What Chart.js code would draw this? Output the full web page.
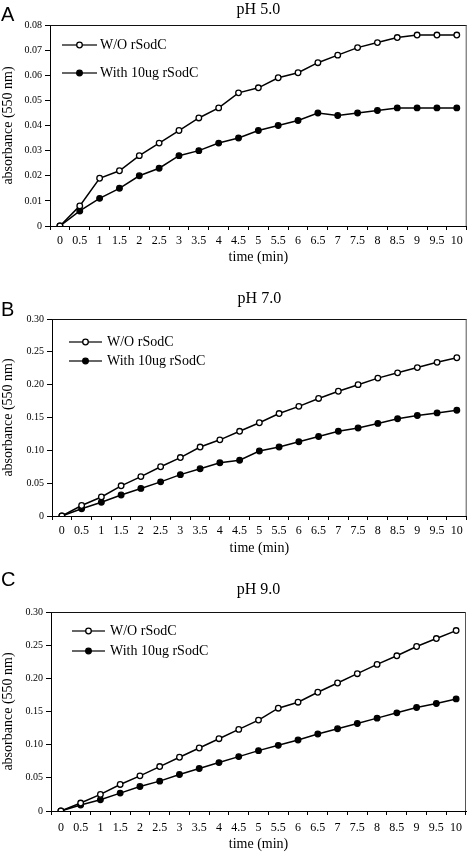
<!DOCTYPE html>
<html>
<head>
<meta charset="utf-8">
<script src="https://cdn.jsdelivr.net/npm/chart.js@4.4.1/dist/chart.umd.min.js"></script>
<style>
  body { margin: 0; background: #fff; }
  .panel { position: absolute; left: 0; width: 472px; }
  .letter {
    position: absolute;
    left: 1px;
    font: 20px "Liberation Sans", Arial, sans-serif;
    line-height: 1;
  }
</style>
</head>
<body>
<div class="panel" style="top:0px;height:270px"><canvas id="chartA" width="472" height="270"></canvas></div>
<div class="panel" style="top:285px;height:275px"><canvas id="chartB" width="472" height="275"></canvas></div>
<div class="panel" style="top:575px;height:278px"><canvas id="chartC" width="472" height="278"></canvas></div>
<div class="letter" style="top:4px">A</div>
<div class="letter" style="top:299px">B</div>
<div class="letter" style="top:569px">C</div>

<script>
const times = ["0", "0.5", "1", "1.5", "2", "2.5", "3", "3.5", "4", "4.5", "5",
  "5.5", "6", "6.5", "7", "7.5", "8", "8.5", "9", "9.5", "10"];
const seriesNames = ["W/O rSodC", "With 10ug rSodC"];

// pH 5.0
const ph5Without = [0, 0.008, 0.019, 0.022, 0.028, 0.033, 0.038, 0.043, 0.047, 0.053, 0.055,
  0.059, 0.061, 0.065, 0.068, 0.071, 0.073, 0.075, 0.076, 0.076, 0.076];
const ph5With = [0, 0.006, 0.011, 0.015, 0.020, 0.023, 0.028, 0.030, 0.033, 0.035, 0.038,
  0.040, 0.042, 0.045, 0.044, 0.045, 0.046, 0.047, 0.047, 0.047, 0.047];

// pH 7.0
const ph7Without = [0, 0.016, 0.029, 0.046, 0.060, 0.075, 0.089, 0.105, 0.116, 0.129, 0.142,
  0.156, 0.167, 0.179, 0.190, 0.200, 0.210, 0.218, 0.226, 0.234, 0.241];
const ph7With = [0, 0.011, 0.021, 0.032, 0.042, 0.052, 0.063, 0.072, 0.081, 0.085, 0.099,
  0.105, 0.113, 0.121, 0.129, 0.134, 0.141, 0.148, 0.153, 0.157, 0.161];

// pH 9.0
const ph9Without = [0, 0.012, 0.025, 0.040, 0.053, 0.067, 0.081, 0.095, 0.109, 0.123, 0.137,
  0.155, 0.164, 0.179, 0.193, 0.207, 0.221, 0.234, 0.248, 0.260, 0.272];
const ph9With = [0, 0.009, 0.017, 0.027, 0.037, 0.045, 0.055, 0.064, 0.073, 0.082, 0.091,
  0.099, 0.107, 0.116, 0.124, 0.132, 0.140, 0.148, 0.156, 0.162, 0.169];

const yMaxA = 0.08, yStepA = 0.01;
const yMaxB = 0.3, yStepB = 0.05;
const yMaxC = 0.3, yStepC = 0.05;

const serif = "'Liberation Serif', 'Times New Roman', serif";

// legend drawn inside the plot area, top-left
const insideLegend = {
  id: "insideLegend",
  afterDatasetsDraw(chart, args, opts) {
    const { ctx, chartArea } = chart;
    chart.data.datasets.forEach((ds, i) => {
      const y = chartArea.top + opts.rows[i];
      const x1 = chartArea.left + opts.lineStart;
      const x2 = chartArea.left + opts.lineEnd;
      ctx.save();
      ctx.strokeStyle = "#333";
      ctx.lineWidth = 1.5;
      ctx.beginPath();
      ctx.moveTo(x1, y);
      ctx.lineTo(x2, y);
      ctx.stroke();
      ctx.beginPath();
      ctx.arc((x1 + x2) / 2, y, 2.8, 0, Math.PI * 2);
      ctx.fillStyle = ds.pointBackgroundColor;
      ctx.fill();
      ctx.strokeStyle = "#000";
      ctx.lineWidth = 1.3;
      ctx.stroke();
      ctx.fillStyle = "#000";
      ctx.font = "14px " + serif;
      ctx.textBaseline = "middle";
      ctx.fillText(ds.label, chartArea.left + opts.textStart, y);
      ctx.restore();
    });
  },
};

// top and right edges of the plot box
const plotFrame = {
  id: "plotFrame",
  afterDraw(chart) {
    const { ctx, chartArea } = chart;
    ctx.save();
    ctx.lineWidth = 1;
    ctx.strokeStyle = "#111";
    ctx.beginPath();
    ctx.moveTo(chartArea.left, chartArea.top + 0.5);
    ctx.lineTo(chartArea.right, chartArea.top + 0.5);
    ctx.stroke();
    ctx.strokeStyle = "#555";
    ctx.beginPath();
    ctx.moveTo(chartArea.right - 0.5, chartArea.top);
    ctx.lineTo(chartArea.right - 0.5, chartArea.bottom);
    ctx.stroke();
    ctx.restore();
  },
};

function makeChart(canvasId, title, without, withSod, yMax, yStep, layout) {
  return new Chart(document.getElementById(canvasId), {
    type: "line",
    data: {
      labels: times,
      datasets: [
        {
          label: seriesNames[0],
          data: without,
          borderColor: "#000",
          borderWidth: 1.5,
          pointRadius: 2.8,
          pointBorderWidth: 1.3,
          pointBorderColor: "#000",
          pointBackgroundColor: "#fff",
          tension: 0,
        },
        {
          label: seriesNames[1],
          data: withSod,
          borderColor: "#000",
          borderWidth: 1.5,
          pointRadius: 2.8,
          pointBorderWidth: 1.3,
          pointBorderColor: "#000",
          pointBackgroundColor: "#000",
          tension: 0,
        },
      ],
    },
    options: {
      responsive: false,
      animation: false,
      devicePixelRatio: 1,
      layout: { padding: { left: 0, right: layout.right, top: 0, bottom: 0 } },
      plugins: {
        legend: { display: false },
        tooltip: { enabled: false },
        title: {
          display: true,
          text: title,
          fullSize: false,
          color: "#000",
          font: { family: serif, size: 16, weight: "normal", lineHeight: 1.2 },
          padding: { top: layout.titleTop, bottom: layout.titleBottom },
        },
        insideLegend: layout.legend,
      },
      scales: {
        x: {
          type: "category",
          offset: true,
          afterFit: (s) => { s.height = layout.xHeight; },
          grid: {
            offset: true,
            drawOnChartArea: false,
            drawTicks: true,
            tickLength: 4,
            color: "#000",
          },
          border: { display: true, color: "#000", width: 1 },
          ticks: {
            autoSkip: false,
            maxRotation: 0,
            padding: layout.xTickPad,
            color: "#000",
            font: { family: serif, size: 12 },
          },
          title: {
            display: true,
            text: "time (min)",
            color: "#000",
            font: { family: serif, size: 14, lineHeight: 1.2 },
            padding: { top: 0, bottom: layout.xTitleBottom },
          },
        },
        y: {
          min: 0,
          max: yMax,
          afterFit: (s) => { s.width = layout.yWidth; },
          grid: {
            drawOnChartArea: false,
            drawTicks: true,
            tickLength: 5,
            color: "#000",
          },
          border: { display: true, color: "#000", width: 1 },
          ticks: {
            stepSize: yStep,
            padding: 3,
            color: "#000",
            font: { family: serif, size: 10 },
          },
          title: {
            display: true,
            text: "absorbance (550 nm)",
            color: "#000",
            font: { family: serif, size: 14, lineHeight: 1.2 },
            padding: { top: 0, bottom: 0 },
          },
        },
      },
    },
    plugins: [insideLegend, plotFrame],
  });
}

makeChart("chartA", "pH 5.0", ph5Without, ph5With, yMaxA, yStepA, {
  right: 2, yWidth: 50, xHeight: 44, xTickPad: 4, xTitleBottom: 4,
  titleTop: 0, titleBottom: 5.8,
  legend: { rows: [20, 48], lineStart: 12, lineEnd: 47, textStart: 50 },
});

makeChart("chartB", "pH 7.0", ph7Without, ph7With, yMaxB, yStepB, {
  right: 1, yWidth: 52, xHeight: 44, xTickPad: 4, xTitleBottom: 3,
  titleTop: 3.9, titleBottom: 10.9,
  legend: { rows: [23, 42], lineStart: 17, lineEnd: 50, textStart: 55 },
});

makeChart("chartC", "pH 9.0", ph9Without, ph9With, yMaxC, yStepC, {
  right: 6, yWidth: 51, xHeight: 42, xTickPad: 5.5, xTitleBottom: 0,
  titleTop: 5.4, titleBottom: 12.4,
  legend: { rows: [19, 39], lineStart: 21, lineEnd: 54, textStart: 59 },
});
</script>
</body>
</html>
